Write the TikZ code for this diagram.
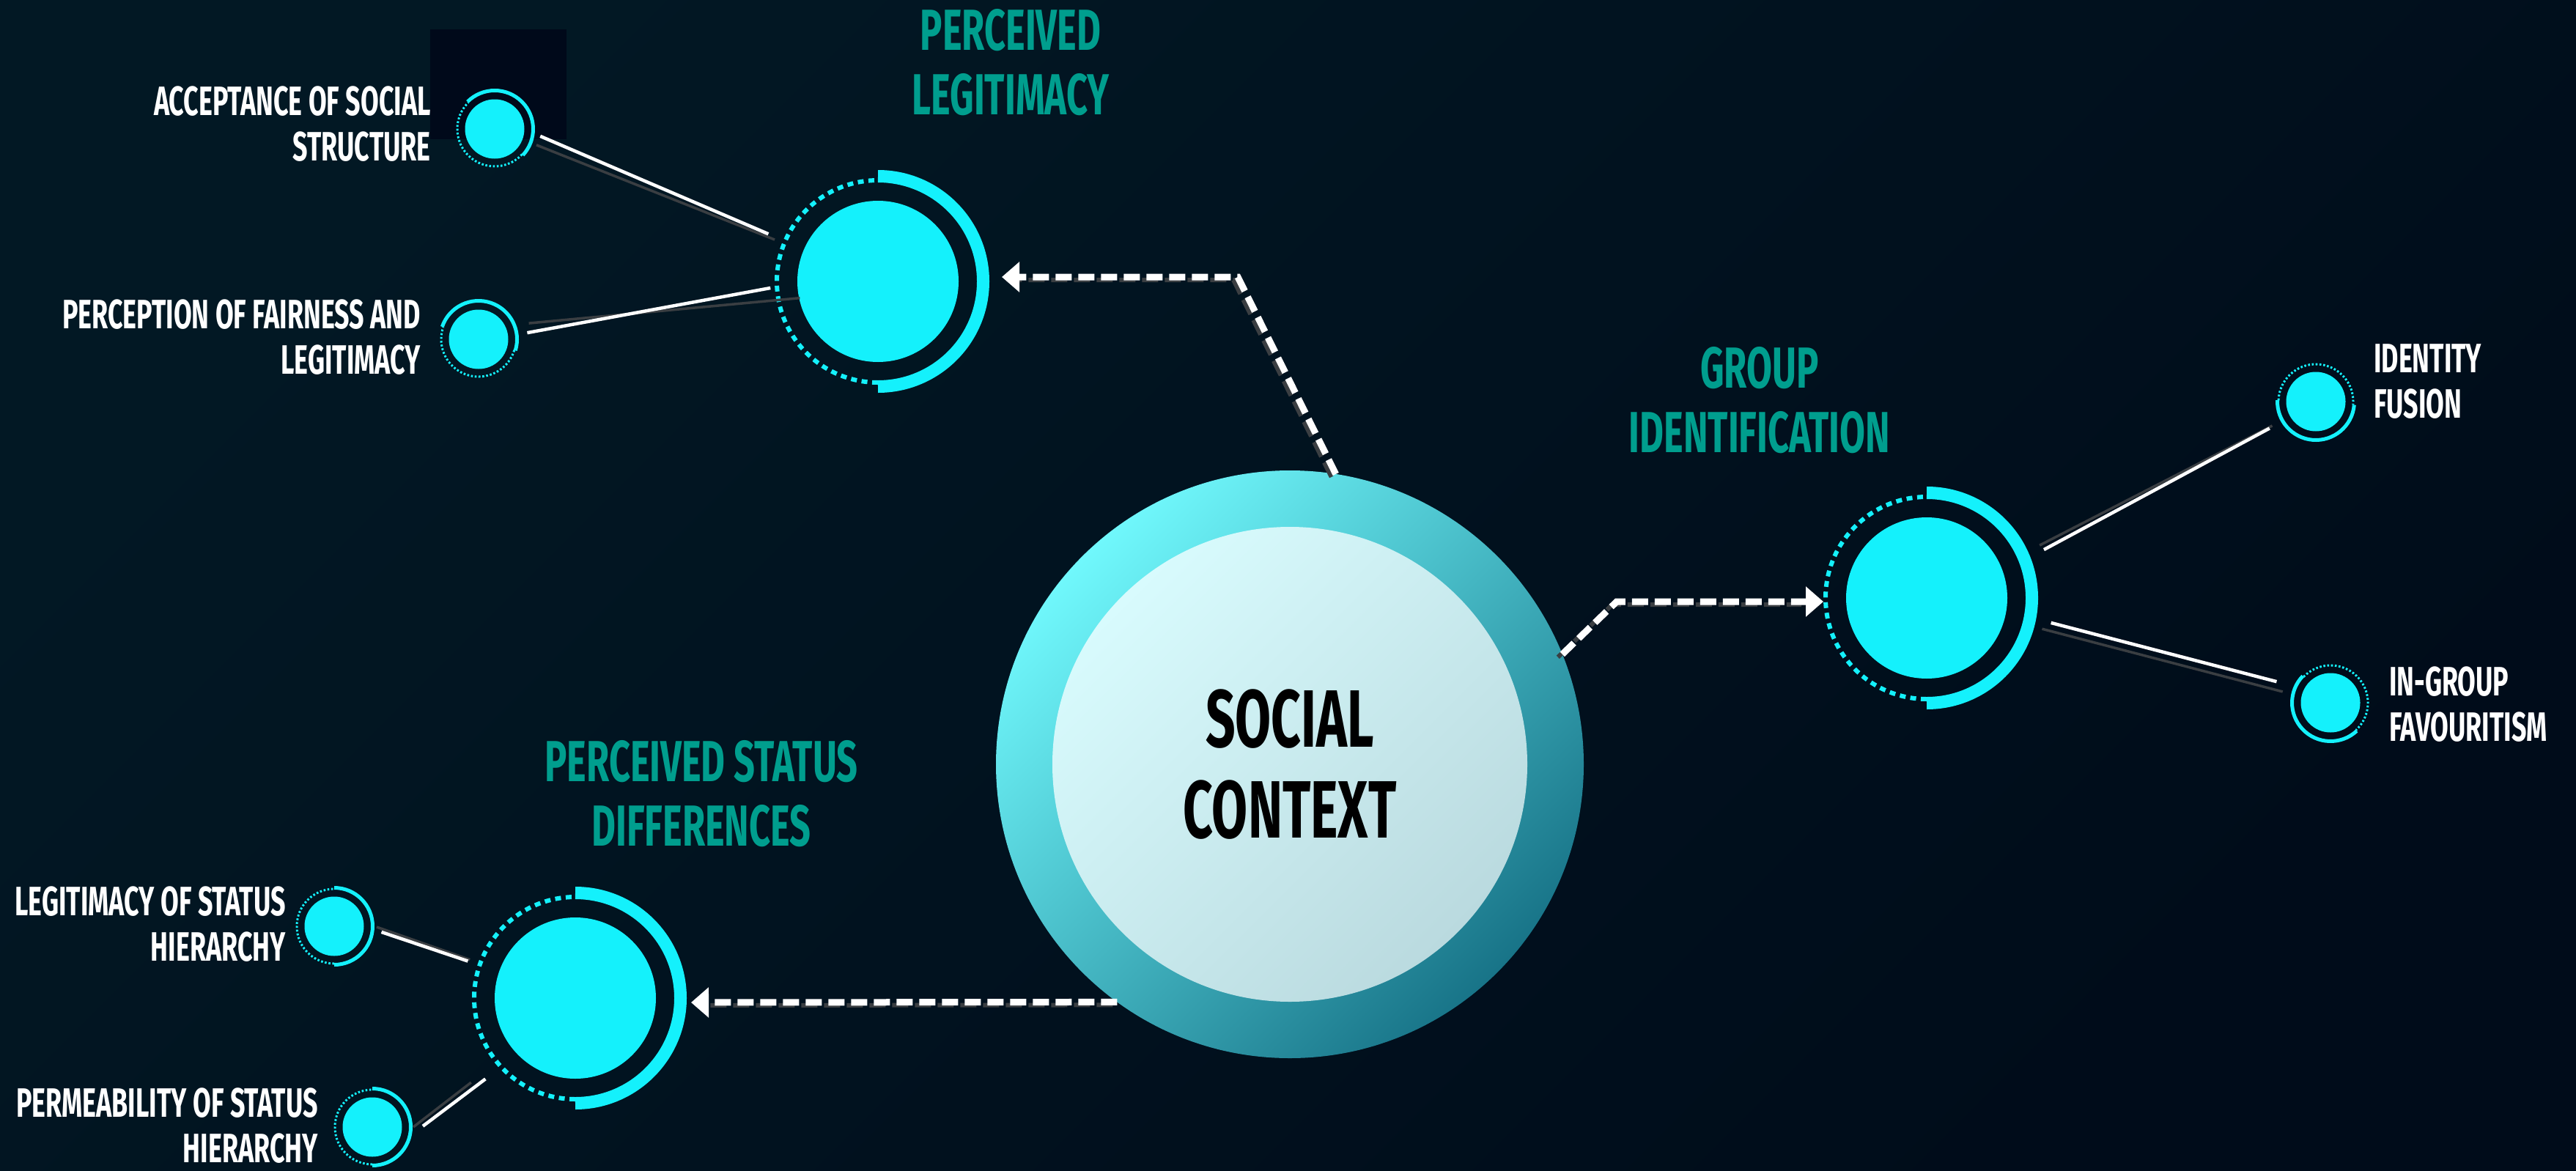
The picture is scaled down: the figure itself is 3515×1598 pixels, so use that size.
\documentclass[tikz,border=0pt]{standalone}
\usepackage{fontspec}
\newfontfamily\capsfont[FakeStretch=0.64]{Fira Sans}
\usetikzlibrary{calc,arrows.meta}

\definecolor{bgtop}{RGB}{2,24,36}
\definecolor{bgbot}{RGB}{0,12,26}
\definecolor{patch}{RGB}{0,9,26}
\definecolor{cyanc}{RGB}{20,241,252}
\definecolor{headc}{RGB}{0,158,142}
\definecolor{ringA}{RGB}{112,248,252}
\definecolor{ringB}{RGB}{24,116,136}
\definecolor{coreA}{RGB}{216,251,253}
\definecolor{coreB}{RGB}{186,218,223}
\definecolor{linkgray}{RGB}{58,62,66}

% ring round a hub disc: solid right half, dotted left half
\newcommand{\hubring}[1]{%
  \draw[hubarc] ($(#1)+(-90:143.5)$) arc[start angle=-90,end angle=90,radius=143.5];
  \draw[hubdots] ($(#1)+(90:138)$) arc[start angle=90,end angle=270,radius=138];
}
% ring round a small disc: solid from #2 to #3, dotted the rest
\newcommand{\minring}[3]{%
  \draw[minarc] ($(#1)+(#2:52.5)$) arc[start angle=#2,end angle=#3,radius=52.5];
  \draw[mindots] ($(#1)+(#3:51)$) arc[start angle=#3,end angle=#2+360,radius=51];
}

\begin{document}
\begin{tikzpicture}[x=1pt,y=-1pt,
    outerdisc/.style={circle,minimum size=802pt,inner sep=0pt,outer sep=0pt,shade,top color=ringA,bottom color=ringB,shading angle=45},
    coredisc/.style={circle,minimum size=648pt,inner sep=0pt,outer sep=0pt,shade,top color=coreA,bottom color=coreB,shading angle=45,
      align=center,text=black,font=\capsfont\bfseries\fontsize{111}{124}\selectfont},
    hubdisc/.style={circle,fill=cyanc,minimum size=220pt,inner sep=0pt,outer sep=0pt},
    mindisc/.style={circle,fill=cyanc,minimum size=81pt,inner sep=0pt,outer sep=0pt},
    hubarc/.style={draw=cyanc,line width=17pt},
    hubdots/.style={draw=cyanc,line width=6pt,dash pattern=on 8pt off 6.5pt},
    minarc/.style={draw=cyanc,line width=5pt},
    mindots/.style={draw=cyanc,line width=3pt,dash pattern=on 2.6pt off 2.6pt},
    flow/.style={draw=white,line width=9pt,dash pattern=on 22pt off 9pt,-{Triangle[length=24pt,width=40pt]}},
    flowshadow/.style={draw=linkgray,line width=6pt,dash pattern=on 22pt off 9pt,shorten >=24pt,transform canvas={shift={(-6pt,-4pt)}}},
    link/.style={draw=white,line width=4.5pt},
    linkshadow/.style={draw=linkgray,line width=3.5pt},
    headlabel/.style={text=headc,align=center,inner sep=0pt,font=\capsfont\bfseries\fontsize{79}{88}\selectfont},
    sublabel/.style={text=white,inner sep=0pt,font=\capsfont\bfseries\fontsize{56}{62}\selectfont},
  ]
  \useasboundingbox (0,0) rectangle (3515,1598);
  \shade[top color=bgtop,bottom color=bgbot,shading angle=45] (0,0) rectangle (3515,1598);
  \fill[patch] (587,40) rectangle (773,190);

  % centre
  \node[outerdisc] (sc) at (1760,1043) {};
  \node[coredisc] (core) at (sc) {SOCIAL\\CONTEXT};

  % hubs
  \node[hubdisc] (pl) at (1198,384) {};
  \node[hubdisc] (gi) at (2629,816) {};
  \node[hubdisc] (psd) at (785,1362) {};
  \hubring{pl}
  \hubring{gi}
  \hubring{psd}

  % small discs
  \node[mindisc] (acc) at (675,176) {};
  \node[mindisc] (fair) at (653,463) {};
  \node[mindisc] (fus) at (3160,548) {};
  \node[mindisc] (fav) at (3180,959) {};
  \node[mindisc] (leg) at (456,1264) {};
  \node[mindisc] (perm) at (508,1538) {};
  \minring{acc}{-135}{43}
  \minring{fair}{-161}{17}
  \minring{fus}{5}{182}
  \minring{fav}{47}{224}
  \minring{leg}{-90}{90}
  \minring{perm}{-90}{90}

  % links
  \draw[linkshadow] ($(acc)+(21:61)$) -- ($(pl)+(-158:152)$);
  \draw[link] ($(acc)+(9:63)$) -- ($(pl)+(-156.6:163)$);
  \draw[linkshadow] ($(fair)+(-17.7:72)$) -- ($(pl)+(168:109)$);
  \draw[link] ($(fair)+(-7.6:67)$) -- ($(pl)+(176.5:147)$);
  \draw[linkshadow] ($(gi)+(-25:170)$) -- ($(fus)+(151:68)$);
  \draw[link] ($(gi)+(-22.4:173)$) -- ($(fus)+(150:73)$);
  \draw[linkshadow] ($(gi)+(15:163)$) -- ($(fav)+(-167:67)$);
  \draw[link] ($(gi)+(11.3:173)$) -- ($(fav)+(-158.6:79)$);
  \draw[linkshadow] ($(leg)+(1:58)$) -- ($(psd)+(-160:153)$);
  \draw[link] ($(leg)+(7:65)$) -- ($(psd)+(-161:155)$);
  \draw[linkshadow] ($(perm)+(0:56)$) -- ($(psd)+(141:183)$);
  \draw[link] ($(perm)+(-1:69)$) -- ($(psd)+(138:165)$);

  % arrows out of the centre
  \draw[flowshadow] (sc.81.3) -- (1689,378) -- ($(pl)+(169,-6)$);
  \draw[flow] (sc.81.3) -- (1689,378) -- ($(pl)+(169,-6)$);
  \draw[flowshadow] (sc.22) -- (2206,821) -- ($(gi)+(-141,5)$);
  \draw[flow] (sc.22) -- (2206,821) -- ($(gi)+(-141,5)$);
  \draw[flowshadow] (sc.234) -- ($(psd)+(158,6)$);
  \draw[flow] (sc.234) -- ($(psd)+(158,6)$);

  % labels
  \node[headlabel] (plt) at (1379,85.5) {PERCEIVED\\LEGITIMACY};
  \node[headlabel] (git) at (2401,546) {GROUP\\IDENTIFICATION};
  \node[headlabel] (psdt) at (957,1083) {PERCEIVED STATUS\\DIFFERENCES};
  \node[sublabel,align=right,anchor=east] (acct) at (588,169) {ACCEPTANCE OF SOCIAL\\STRUCTURE};
  \node[sublabel,align=right,anchor=east] (fairt) at (574,460) {PERCEPTION OF FAIRNESS AND\\LEGITIMACY};
  \node[sublabel,align=left,anchor=west] (fust) at (3239,521) {IDENTITY\\FUSION};
  \node[sublabel,align=left,anchor=west] (favt) at (3260,961.5) {IN-GROUP\\FAVOURITISM};
  \node[sublabel,align=right,anchor=east] (legt) at (390,1261) {LEGITIMACY OF STATUS\\HIERARCHY};
  \node[sublabel,align=right,anchor=east] (permt) at (434,1536) {PERMEABILITY OF STATUS\\HIERARCHY};
\end{tikzpicture}
\end{document}
